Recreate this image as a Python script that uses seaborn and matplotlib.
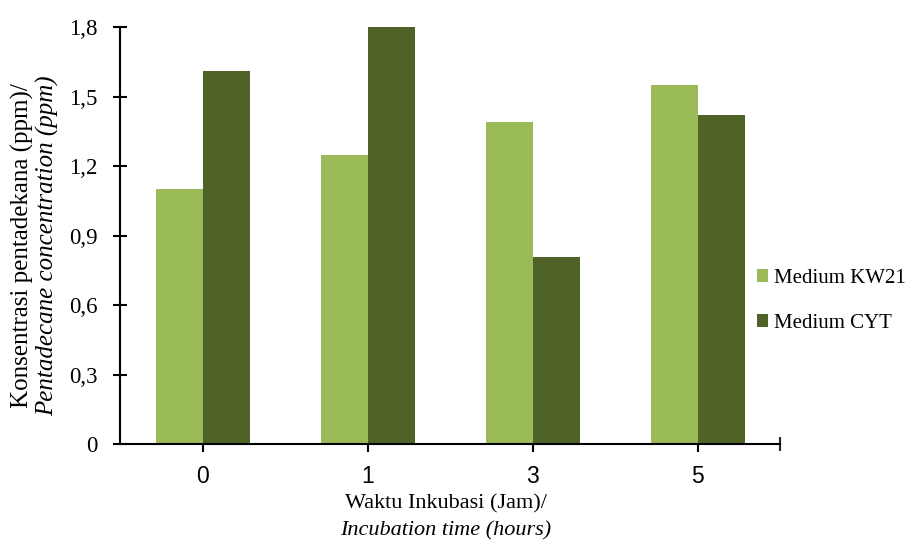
"""Pentadecane concentration per incubation time, two media."""
import matplotlib
matplotlib.use("Agg")
import matplotlib.pyplot as plt
import seaborn as sns
import pandas as pd
from matplotlib.ticker import FixedLocator, FuncFormatter

# data
times = ["0", "1", "3", "5"]
media = ["Medium KW21", "Medium CYT"]
kw21 = [1.10, 1.25, 1.39, 1.55]
cyt = [1.61, 1.80, 0.81, 1.42]
y_ticks = [0, 0.3, 0.6, 0.9, 1.2, 1.5, 1.8]

colors = ["#9BBB59", "#4F6228"]


def main():
    df = pd.DataFrame({
        "time": times * 2,
        "medium": [media[0]] * len(times) + [media[1]] * len(times),
        "conc": kw21 + cyt,
    })

    sns.set_theme(style="white")
    plt.rcParams["font.family"] = ["Liberation Serif", "DejaVu Serif"]
    plt.rcParams["text.color"] = "black"

    fig = plt.figure(figsize=(9.06, 5.43), dpi=100)
    ax = fig.add_axes([0.1325, 0.182, 0.861 - 0.1325, 0.950 - 0.182])

    sns.barplot(
        data=df, x="time", y="conc", hue="medium",
        order=times, hue_order=media, palette=colors,
        width=0.57, saturation=1, ax=ax, linewidth=0,
    )

    ax.set_xlim(-0.5, 3.5)
    ax.set_ylim(0, 1.8)
    ax.yaxis.set_major_locator(FixedLocator(y_ticks))
    ax.yaxis.set_major_formatter(
        FuncFormatter(lambda v, _: "0" if v == 0 else f"{v:.1f}".replace(".", ","))
    )
    ax.set_xlabel("")
    ax.set_ylabel("")

    for s in ["top", "right"]:
        ax.spines[s].set_visible(False)
    for s in ["left", "bottom"]:
        ax.spines[s].set_color("black")
        ax.spines[s].set_linewidth(1.5)

    ax.tick_params(axis="y", direction="inout", length=10, width=1.5,
                   left=True, labelsize=16.5, pad=11, colors="black")
    ax.tick_params(axis="x", direction="out", length=6, width=1.5,
                   bottom=True, labelsize=16.5, pad=9, colors="black")
    for lab in ax.get_xticklabels():
        lab.set_family(["Liberation Sans", "DejaVu Sans"])
    # closing tick at the right end of the category axis
    ax.set_xticks([3.5], minor=True)
    ax.tick_params(axis="x", which="minor", direction="inout", length=10,
                   width=1.5, bottom=True)

    leg = ax.legend(
        loc="center left", frameon=False,
        fontsize=15, handlelength=0.55, handleheight=0.55, handletextpad=0.25,
        labelspacing=1.25, borderpad=0, borderaxespad=0,
    )
    leg.set_bbox_to_anchor((757 / 906, 1 - 301 / 543), transform=fig.transFigure)

    fig.text(22 / 906, 1 - 246 / 543, "Konsentrasi pentadekana (ppm)/",
             rotation=90, ha="center", va="center", fontsize=18)
    fig.text(48 / 906, 1 - 246 / 543, "Pentadecane concentration (ppm)",
             rotation=90, ha="center", va="center", fontsize=18, style="italic")
    fig.text(446 / 906, 1 - 504 / 543, "Waktu Inkubasi (Jam)/",
             ha="center", va="center", fontsize=16)
    fig.text(446 / 906, 1 - 531 / 543, "Incubation time (hours)",
             ha="center", va="center", fontsize=16, style="italic")

    fig.savefig("out.png", dpi=100)


if __name__ == "__main__":
    main()
